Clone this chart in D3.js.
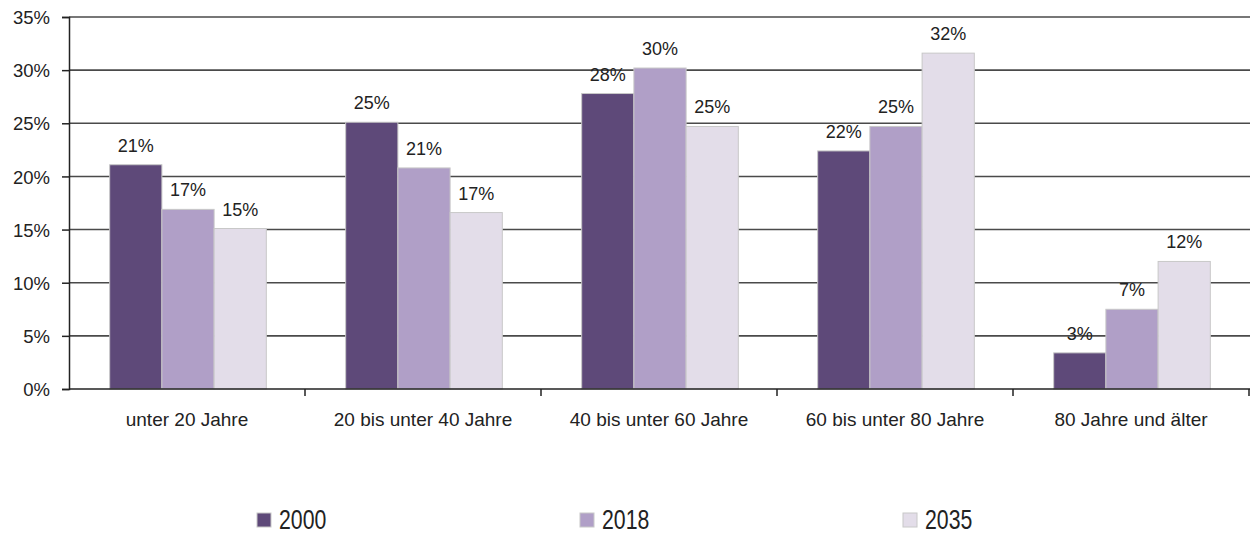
<!DOCTYPE html>
<html>
<head>
<meta charset="utf-8">
<script src="https://cdn.jsdelivr.net/npm/d3@7"></script>
<style>
  body { margin: 0; background: #fff; }
  text { font-family: "Liberation Sans", Arial, sans-serif; fill: #222; }
</style>
</head>
<body>
<svg id="chart" width="1250" height="536"></svg>
<script>
// age groups and share per year (percent)
var categories = ['unter 20 Jahre', '20 bis unter 40 Jahre', '40 bis unter 60 Jahre', '60 bis unter 80 Jahre', '80 Jahre und älter'];
var years = ['2000', '2018', '2035'];
var values2000 = [21.1, 25.1, 27.8, 22.4, 3.4];
var values2018 = [16.9, 20.8, 30.2, 24.7, 7.5];
var values2035 = [15.1, 16.6, 24.7, 31.6, 12.0];
var labels2000 = ['21%', '25%', '28%', '22%', '3%'];
var labels2018 = ['17%', '21%', '30%', '25%', '7%'];
var labels2035 = ['15%', '17%', '25%', '32%', '12%'];
var yTicks = [0, 5, 10, 15, 20, 25, 30, 35];

var colors = {'2000': '#5e4979', '2018': '#b09fc7', '2035': '#e3dde9'};

var series = [
	{year: '2000', values: values2000, labels: labels2000},
	{year: '2018', values: values2018, labels: labels2018},
	{year: '2035', values: values2035, labels: labels2035}
];

var plotLeft = 69, plotRight = 1249, plotTop = 17, plotBottom = 389;

var svg = d3.select('#chart');

var x = d3.scaleBand().domain(categories).range([plotLeft, plotRight]);
var xInner = d3.scaleBand().domain(years).range([0, x.bandwidth()]).paddingOuter(0.76).paddingInner(0);
var y = d3.scaleLinear().domain([0, 35]).range([plotBottom, plotTop]);

// gridlines
svg.append('g').selectAll('line')
	.data(yTicks.filter(function(d) { return d > 0; }))
	.enter().append('line')
	.attr('x1', plotLeft).attr('x2', 1250)
	.attr('y1', function(d) { return y(d); })
	.attr('y2', function(d) { return y(d); })
	.style('stroke', '#4a4a4a')
	.style('stroke-width', 1.6);

// y axis
var yAxis = svg.append('g')
	.attr('transform', 'translate(' + plotLeft + ',0)')
	.call(d3.axisLeft(y).tickValues(yTicks).tickSize(7).tickPadding(12).tickFormat(function(d) { return d + '%'; }));
yAxis.select('.domain').style('stroke', '#222').style('stroke-width', 1.5);
yAxis.selectAll('.tick line').style('stroke', '#222').style('stroke-width', 1.5);
yAxis.selectAll('text').style('font-size', '18.5px').style('fill', '#222').attr('dy', '0.36em');

// bars
var groups = svg.append('g').selectAll('g')
	.data(series)
	.enter().append('g');

groups.selectAll('rect')
	.data(function(s) { return s.values.map(function(v, i) { return {year: s.year, cat: categories[i], v: v}; }); })
	.enter().append('rect')
	.attr('x', function(d) { return x(d.cat) + xInner(d.year) + 1; })
	.attr('y', function(d) { return y(d.v); })
	.attr('width', xInner.bandwidth())
	.attr('height', function(d) { return y(0) - y(d.v); })
	.style('fill', function(d) { return colors[d.year]; })
	.style('stroke', '#c8c8c8')
	.style('stroke-width', 1);

groups.selectAll('text')
	.data(function(s) { return s.values.map(function(v, i) { return {year: s.year, cat: categories[i], v: v, label: s.labels[i]}; }); })
	.enter().append('text')
	.attr('x', function(d) { return x(d.cat) + xInner(d.year) + xInner.bandwidth() / 2 + 1; })
	.attr('y', function(d) { return y(d.v) - 13; })
	.attr('text-anchor', 'middle')
	.style('font-size', '18px')
	.text(function(d) { return d.label; });

// x axis
var xAxis = svg.append('g')
	.attr('transform', 'translate(0,' + plotBottom + ')')
	.call(d3.axisBottom(x).tickSize(0).tickPadding(24));
xAxis.select('.domain').remove();
xAxis.selectAll('text').style('font-size', '19px').style('fill', '#222');

svg.append('line')
	.attr('x1', plotLeft).attr('x2', 1250)
	.attr('y1', plotBottom).attr('y2', plotBottom)
	.style('stroke', '#222').style('stroke-width', 1.5);

// category separators
svg.append('g').selectAll('line')
	.data(categories)
	.enter().append('line')
	.attr('x1', function(d) { return x(d) + x.bandwidth(); })
	.attr('x2', function(d) { return x(d) + x.bandwidth(); })
	.attr('y1', plotBottom).attr('y2', plotBottom + 7)
	.style('stroke', '#222').style('stroke-width', 1.5);

// legend
var legendX = [257, 580, 903];
var legend = svg.append('g').selectAll('g')
	.data(years)
	.enter().append('g')
	.attr('transform', function(d, i) { return 'translate(' + legendX[i] + ',513)'; });

legend.append('rect')
	.attr('width', 14).attr('height', 14)
	.style('fill', function(d) { return colors[d]; })
	.style('stroke', '#c8c8c8');

legend.append('text')
	.attr('transform', 'translate(22,16) scale(0.76,1)')
	.style('font-size', '28px')
	.text(function(d) { return d; });
</script>
</body>
</html>
